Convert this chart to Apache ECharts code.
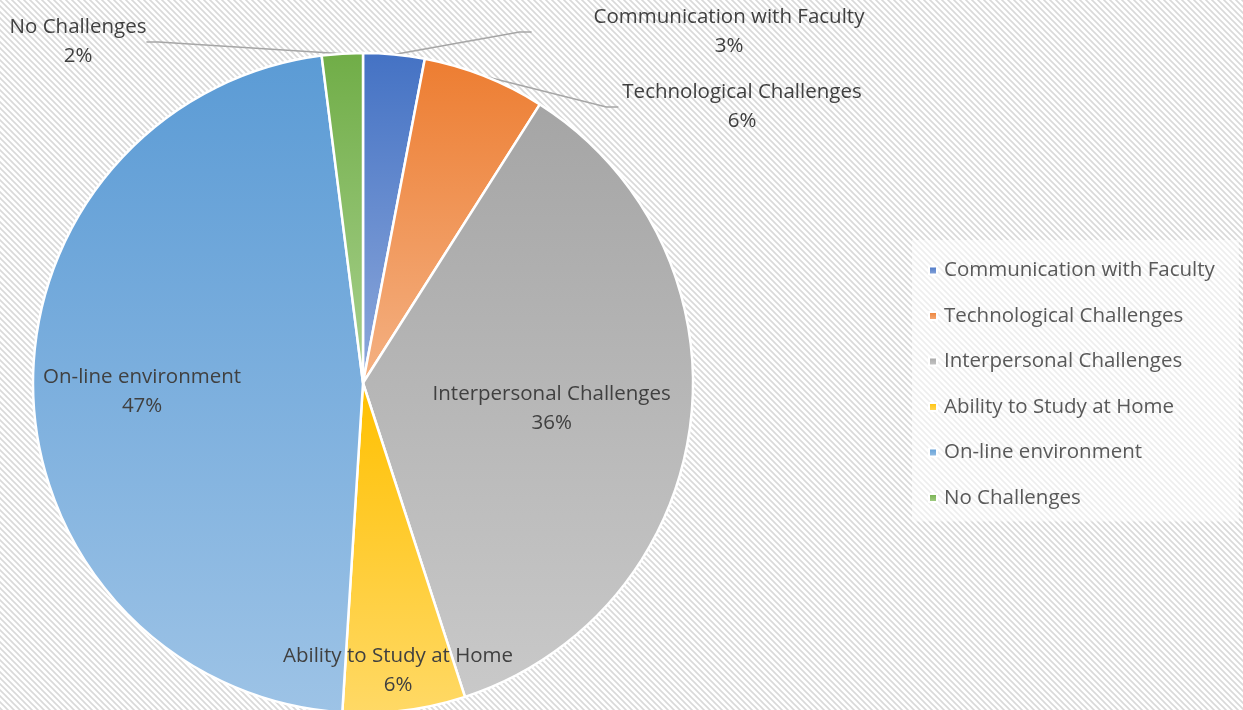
<!DOCTYPE html>
<html>
<head>
<meta charset="utf-8">
<script src="https://cdn.jsdelivr.net/npm/echarts@6/dist/echarts.min.js"></script>
<style>
  html, body { margin: 0; padding: 0; background: #fff; }
  #main { width: 1243px; height: 710px; }
</style>
</head>
<body>
<div id="main"></div>
<script>
// data
var categories = ['Communication with Faculty', 'Technological Challenges', 'Interpersonal Challenges',
                  'Ability to Study at Home', 'On-line environment', 'No Challenges'];
var shares = [3, 6, 36, 6, 47, 2];

// top / bottom colours of each slice gradient
var topColors = ['#4472C4', '#ED7D31', '#A5A5A5', '#FFC000', '#5B9BD5', '#70AD47'];
var bottomColors = ['#8EA9DB', '#F4B183', '#C9C9C9', '#FFD966', '#9DC3E6', '#A9D18E'];

// label tweaks (inside labels: offset, outside labels: placed with leader lines)
var insideOffsets = { 'Interpersonal Challenges': [22, 5], 'Ability to Study at Home': [14, 121], 'On-line environment': [-53, 3] };
var outsidePos = { 'Communication with Faculty': [729, 32], 'Technological Challenges': [742, 107], 'No Challenges': [78, 42] };
var outsidePad = { 'Communication with Faculty': [0, 62], 'Technological Challenges': [0, 4], 'No Challenges': [0, 0] };

// hatched background
function hatch() {
    var c = document.createElement('canvas');
    c.width = 6; c.height = 6;
    var ctx = c.getContext('2d');
    ctx.fillStyle = '#fff';
    ctx.fillRect(0, 0, 6, 6);
    ctx.strokeStyle = '#d9d9d9';
    ctx.lineWidth = 1.6;
    ctx.beginPath();
    ctx.moveTo(-1, -1); ctx.lineTo(7, 7);
    ctx.moveTo(-4, 2); ctx.lineTo(2, 8);
    ctx.moveTo(2, -4); ctx.lineTo(8, 2);
    ctx.stroke();
    return c;
}

var font = 'Open Sans';
var pieData = [];
for (var i = 0; i < categories.length; i++) {
    var name = categories[i];
    var item = {
        name: name,
        value: shares[i],
        itemStyle: {
            color: {
                type: 'linear', x: 0, y: 0, x2: 0, y2: 1,
                colorStops: [{ offset: 0, color: topColors[i] }, { offset: 1, color: bottomColors[i] }]
            }
        }
    };
    if (insideOffsets[name]) {
        item.label = { position: 'inside', offset: insideOffsets[name] };
        item.labelLine = { show: false };
    } else {
        item.label = { position: 'outside', align: 'center', padding: outsidePad[name] };
        item.labelLine = { show: true, length: 10, length2: 12 };
    }
    pieData.push(item);
}

var chart = echarts.init(document.getElementById('main'));
var option = {
    backgroundColor: { image: hatch(), repeat: 'repeat' },
    animation: false,
    legend: {
        orient: 'vertical',
        left: 912,
        top: 240,
        width: 331,
        padding: [20, 24, 13, 16],
        backgroundColor: 'rgba(255,255,255,0.55)',
        itemWidth: 8,
        itemHeight: 8,
        itemGap: 24.5,
        icon: 'rect',
        data: categories,
        textStyle: { fontFamily: font, fontSize: 20.5, color: '#595959', padding: [0, 0, 0, 2] }
    },
    series: [{
        type: 'pie',
        center: [363, 383],
        radius: 330,
        startAngle: 90,
        clockwise: true,
        avoidLabelOverlap: false,
        itemStyle: { borderColor: '#fff', borderWidth: 2.5 },
        label: {
            formatter: '{b}\n{d}%',
            fontFamily: font,
            fontSize: 20.5,
            lineHeight: 29,
            color: '#404040'
        },
        labelLine: {
            lineStyle: { color: '#a6a6a6', width: 1.5 }
        },
        labelLayout: function (p) {
            var pos = outsidePos[categories[p.dataIndex]];
            if (!pos) return {};
            return { x: pos[0], y: pos[1], align: 'center', verticalAlign: 'middle' };
        },
        emphasis: { disabled: true },
        data: pieData
    }]
};
chart.setOption(option);
</script>
</body>
</html>
